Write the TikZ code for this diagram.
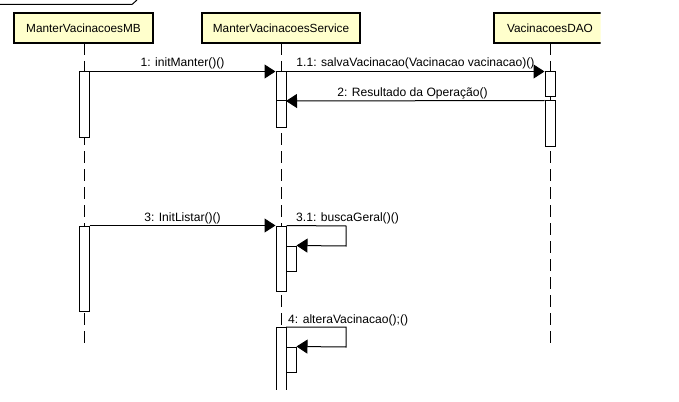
\documentclass[tikz,border=0pt]{standalone}
\usepackage{fontspec}
\setmainfont{Liberation Sans}
\usetikzlibrary{arrows.meta}
\definecolor{hdrfill}{RGB}{255,255,204}
\tikzset{
  hdr/.style={draw=black, line width=2pt, fill=hdrfill, rectangle, inner sep=0pt, minimum height=30pt, font=\fontsize{11.8}{13}\selectfont},
  act/.style={draw=black, line width=1pt, fill=white, rectangle, inner sep=0pt, minimum width=10pt},
  life/.style={draw=black, line width=1pt, dash pattern=on 12pt off 6pt},
  msg/.style={draw=black, line width=1pt, -{Triangle[length=11pt,width=14pt]}},
  plain/.style={draw=black, line width=1pt},
  lbl/.style={inner sep=0pt, anchor=base, font=\fontsize{12.1}{13}\selectfont},
  lbll/.style={inner sep=0pt, anchor=base west, font=\fontsize{12.1}{13}\selectfont},
}
\begin{document}
\begin{tikzpicture}[x=1pt, y=-1pt]
\useasboundingbox (0,0) rectangle (679,401);
% frame tab
\coordinate (f0) at (0,4.5);
\coordinate (f1) at (132,4.5);
\coordinate (f2) at (137,0);
\draw[plain] (f0) -- (f1) -- (f2);
% headers
\node[hdr, minimum width=139pt] (mb) at (83.5,28) {ManterVacinacoesMB};
\node[hdr, minimum width=158pt] (sv) at (281,28) {ManterVacinacoesService};
\begin{scope}
\clip (0,0) rectangle (600.5,401);
\node[hdr, minimum width=112pt] (dao) at (550,28) {VacinacoesDAO};
\end{scope}
% lifeline ends
\coordinate (mbEnd) at (84,344);
\coordinate (svEnd) at (281,327);
\coordinate (daoEnd) at (550,345);
\draw[life] (84,43) -- (mbEnd);
\draw[life] (281,43) -- (svEnd);
\draw[life] (550,43) -- (daoEnd);
% activations
\node[act, minimum height=65pt] (mb1) at (84,104.5) {};
\node[act, minimum height=55pt] (s1) at (281,99.5) {};
\node[act, minimum height=25pt] (d1) at (550,84.5) {};
\node[act, minimum height=45pt] (d2) at (550,123.5) {};
\node[act, minimum height=85pt] (mb2) at (84,268.5) {};
\node[act, minimum height=65pt] (s2) at (281,258.5) {};
\node[act, minimum height=25pt] (s2n) at (291,258.5) {};
\begin{scope}
\clip (0,0) rectangle (679,389.5);
\node[act, minimum height=80pt] (s3) at (281,367) {};
\end{scope}
\node[act, minimum height=25pt] (s3n) at (291,359.5) {};
% split line in s1
\coordinate (s1a) at (276,101);
\coordinate (s1b) at (286,101);
\draw[plain] (s1a) -- (s1b);
% messages
\draw[msg] (mb1.north east) -- (s1.north west);
\node[lbl] (l1) at (182.5,66.5) {1: initManter()()};
\draw[msg] (s1.north east) -- (d1.north west);
\node[lbl] (l11) at (415.5,66.5) {1.1: salvaVacinacao(Vacinacao vacinacao)()};
\draw[msg] (d2.north west) -- (s1b);
\node[lbl] (l2) at (412.5,96) {2: Resultado da Operação()};
\draw[msg] (mb2.north east) -- (s2.north west);
\node[lbl] (l3) at (182.5,221) {3: InitListar()()};
\coordinate (c31a) at (346,226);
\coordinate (c31b) at (346,246);
\draw[msg] (s2.north east) -- (c31a) -- (c31b) -- (s2n.north east);
\node[lbll] (l31) at (296,221.5) {3.1: buscaGeral()()};
\coordinate (c4s) at (286,327);
\coordinate (c4a) at (346,327);
\coordinate (c4b) at (346,347);
\draw[msg] (c4s) -- (c4a) -- (c4b) -- (s3n.north east);
\node[lbll] (l4) at (288,323.5) {4: alteraVacinacao();()};
\end{tikzpicture}
\end{document}
